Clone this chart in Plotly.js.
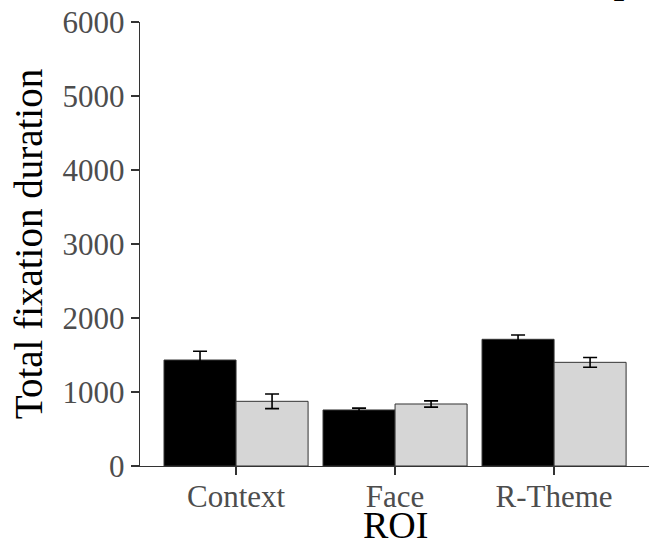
<!DOCTYPE html>
<html>
<head>
<meta charset="utf-8">
<script src="https://cdn.plot.ly/plotly-3.0.1.min.js"></script>
<style>html,body{margin:0;padding:0;background:#fff;}#chart{width:649px;height:550px;}</style>
</head>
<body>
<div id="chart"></div>
<script>
const categories = ["Context", "Face", "R-Theme"];
const groupAValues = [1432, 757, 1712];
const groupAErrors = [118, 25, 58];
const groupBValues = [874, 838, 1401];
const groupBErrors = [99, 42, 66];
const yTickValues = [0, 1000, 2000, 3000, 4000, 5000, 6000];

const serif = "Liberation Serif, Times New Roman, serif";

const traces = [
  {
    type: "bar", x: categories, y: groupAValues,
    marker: {color: "#000000", line: {color: "#333333", width: 1}},
    error_y: {type: "data", array: groupAErrors, visible: true, color: "#000000", thickness: 1.6, width: 7},
    showlegend: false, hoverinfo: "skip"
  },
  {
    type: "bar", x: categories, y: groupBValues,
    marker: {color: "#d6d6d6", line: {color: "#333333", width: 1}},
    error_y: {type: "data", array: groupBErrors, visible: true, color: "#000000", thickness: 1.6, width: 7},
    showlegend: false, hoverinfo: "skip"
  }
];

const layout = {
  width: 649, height: 550,
  margin: {l: 140, r: 0, t: 22, b: 84},
  paper_bgcolor: "#ffffff", plot_bgcolor: "#ffffff",
  barmode: "group", bargap: 0.094, bargroupgap: 0,
  font: {family: serif},
  xaxis: {
    type: "category", range: [-0.604, 2.597],
    showline: true, linecolor: "#333333", linewidth: 1.2,
    ticks: "outside", ticklen: 8, tickcolor: "#333333", tickwidth: 1.2,
    ticklabelstandoff: -5,
    tickfont: {family: serif, size: 31, color: "#4d4d4d"},
    showgrid: false, zeroline: false
  },
  yaxis: {
    range: [0, 6000], tickvals: yTickValues, ticktext: yTickValues.map(String),
    showline: true, linecolor: "#333333", linewidth: 1.2,
    ticks: "outside", ticklen: 8, tickcolor: "#333333", tickwidth: 1.2,
    tickfont: {family: serif, size: 31, color: "#4d4d4d"},
    showgrid: false, zeroline: false,
    title: {text: "Total fixation duration", font: {family: serif, size: 39, color: "#000000"}, standoff: 8}
  },
  annotations: [
    {
      text: "ROI", xref: "x", yref: "paper", x: 1, y: 0,
      xanchor: "center", yanchor: "top", yshift: -36, showarrow: false,
      font: {family: serif, size: 38, color: "#000000"}
    },
    {
      text: "Group", xref: "paper", yref: "paper", x: 0.976, y: 1.04,
      xanchor: "right", yanchor: "bottom", showarrow: false,
      font: {family: serif, size: 44, color: "#000000"}
    }
  ]
};

Plotly.newPlot("chart", traces, layout, {displayModeBar: false, staticPlot: true});
</script>
</body>
</html>
